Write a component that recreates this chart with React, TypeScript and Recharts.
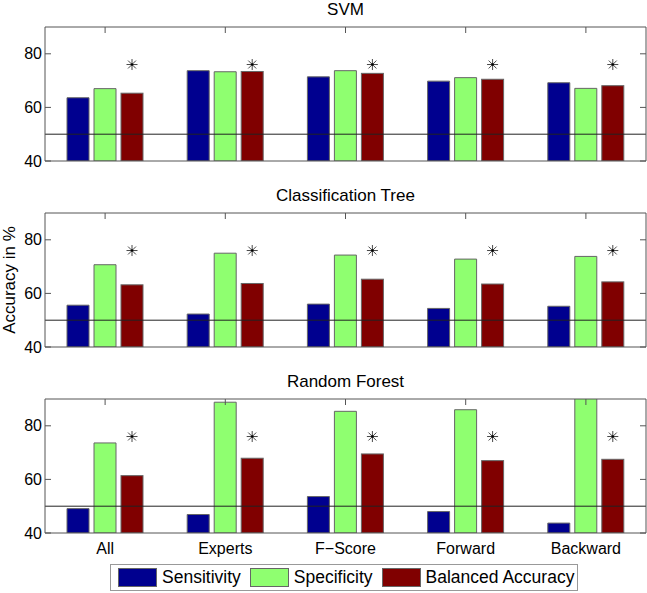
import { BarChart, Bar, XAxis, YAxis, ReferenceLine } from 'recharts';

// feature-selection methods on the x axis
const CATEGORIES = ['All', 'Experts', 'F\u2212Score', 'Forward', 'Backward'];

// SVM
const SVM_SENS = [63.6, 73.7, 71.4, 69.8, 69.2];
const SVM_SPEC = [67.0, 73.3, 73.7, 71.1, 67.1];
const SVM_BAL = [65.3, 73.4, 72.7, 70.5, 68.1];

// Classification Tree
const TREE_SENS = [55.6, 52.3, 56.0, 54.4, 55.2];
const TREE_SPEC = [70.7, 75.0, 74.3, 72.8, 73.8];
const TREE_BAL = [63.2, 63.7, 65.3, 63.5, 64.3];

// Random Forest (Backward specificity runs past the top of the axis)
const FOREST_SENS = [49.1, 46.9, 53.6, 48.0, 43.7];
const FOREST_SPEC = [73.6, 88.8, 85.4, 86.0, 92.0];
const FOREST_BAL = [61.4, 67.9, 69.5, 67.0, 67.5];

const Y_TICKS = [40, 60, 80];
const Y_MIN = 40;
const Y_MAX = 90;
const CHANCE_LEVEL = 50;
const STAR_LEVEL = 76;

const SERIES = [
  { key: 'sens', name: 'Sensitivity', color: '#00008F' },
  { key: 'spec', name: 'Specificity', color: '#8FFF70' },
  { key: 'bal', name: 'Balanced Accuracy', color: '#800000' },
];

const FONT = '"Liberation Sans", Arial, Helvetica, sans-serif';
const BOX = '#555555';
const EDGE = '#666666';

const buildRows = (sens: number[], spec: number[], bal: number[]) =>
  CATEGORIES.map((name, i) => ({ name, sens: sens[i], spec: spec[i], bal: bal[i] }));

const PANELS = [
  { title: 'SVM', rows: buildRows(SVM_SENS, SVM_SPEC, SVM_BAL) },
  { title: 'Classification Tree', rows: buildRows(TREE_SENS, TREE_SPEC, TREE_BAL) },
  { title: 'Random Forest', rows: buildRows(FOREST_SENS, FOREST_SPEC, FOREST_BAL) },
];

function Asterisk({ cx, cy }: { cx: number; cy: number }) {
  const r = 5.5;
  const d = r * 0.72;
  return (
    <g stroke="#333" strokeWidth={0.9}>
      <line x1={cx - r} y1={cy} x2={cx + r} y2={cy} />
      <line x1={cx} y1={cy - r} x2={cx} y2={cy + r} />
      <line x1={cx - d} y1={cy - d} x2={cx + d} y2={cy + d} />
      <line x1={cx - d} y1={cy + d} x2={cx + d} y2={cy - d} />
      <circle cx={cx} cy={cy} r={1.2} fill="#000" stroke="none" />
    </g>
  );
}

// balanced accuracy bar with the significance marker above it
const renderBalanced = (props: any) => {
  const { x, y, width, height, payload, fill } = props;
  const pxPerUnit = height / (payload.bal - Y_MIN);
  const starY = y + height - (STAR_LEVEL - Y_MIN) * pxPerUnit;
  return (
    <g>
      <rect x={x} y={y} width={width} height={height} fill={fill} stroke={EDGE} strokeWidth={1} />
      <Asterisk cx={x + width / 2} cy={starY} />
    </g>
  );
};

function Panel({ title, rows, top, last }: { title: string; rows: any[]; top: number; last: boolean }) {
  return (
    <div style={{ position: 'absolute', left: 0, top, width: 647 }}>
      <div
        style={{
          position: 'absolute',
          left: 45,
          width: 601,
          top: 0,
          height: 19,
          lineHeight: '19px',
          textAlign: 'center',
          fontFamily: FONT,
          fontSize: 17,
          color: '#000',
        }}
      >
        {title}
      </div>
      <BarChart
        width={647}
        height={last ? 193 : 172}
        data={rows}
        margin={{ top: 26, right: 0, left: 0, bottom: last ? 2 : 10 }}
        barSize={22}
        barGap={5}
      >
        <XAxis
          dataKey="name"
          interval={0}
          height={last ? 30 : 1}
          axisLine={{ stroke: BOX }}
          tickLine={false}
          tickMargin={4}
          tick={last ? { fontFamily: FONT, fontSize: 16, fill: '#000' } : false}
        />
        <XAxis
          xAxisId="top"
          orientation="top"
          dataKey="name"
          height={1}
          interval={0}
          tickSize={-6}
          tickFormatter={() => ''}
          axisLine={{ stroke: BOX }}
          tickLine={{ stroke: BOX }}
        />
        <YAxis
          width={45}
          domain={[Y_MIN, Y_MAX]}
          ticks={Y_TICKS}
          interval={0}
          allowDataOverflow
          tickSize={-6}
          tickMargin={9}
          axisLine={{ stroke: BOX }}
          tickLine={{ stroke: BOX }}
          tick={{ fontFamily: FONT, fontSize: 16, fill: '#000' }}
        />
        <YAxis
          yAxisId="right"
          orientation="right"
          width={1}
          domain={[Y_MIN, Y_MAX]}
          ticks={Y_TICKS}
          interval={0}
          allowDataOverflow
          tickSize={-6}
          tickFormatter={() => ''}
          axisLine={{ stroke: BOX }}
          tickLine={{ stroke: BOX }}
        />
        <Bar dataKey="sens" fill={SERIES[0].color} stroke={EDGE} strokeWidth={1} isAnimationActive={false} />
        <Bar dataKey="spec" fill={SERIES[1].color} stroke={EDGE} strokeWidth={1} isAnimationActive={false} />
        <Bar dataKey="bal" fill={SERIES[2].color} shape={renderBalanced} isAnimationActive={false} />
        <ReferenceLine y={CHANCE_LEVEL} stroke="#222" strokeWidth={1} />
      </BarChart>
    </div>
  );
}

export default function App() {
  return (
    <div style={{ position: 'relative', width: 647, height: 593, background: '#fff', fontFamily: FONT }}>
      <style>{'body { margin: 0; }'}</style>
      {PANELS.map((p, i) => (
        <Panel key={p.title} title={p.title} rows={p.rows} top={i * 186} last={i === PANELS.length - 1} />
      ))}
      <div
        style={{
          position: 'absolute',
          left: 9,
          top: 280,
          transform: 'translate(-50%, -50%) rotate(-90deg)',
          whiteSpace: 'nowrap',
          fontSize: 17,
          lineHeight: '17px',
          color: '#000',
        }}
      >
        Accuracy in %
      </div>
      <div
        style={{
          position: 'absolute',
          left: 110,
          top: 564,
          height: 25,
          display: 'flex',
          alignItems: 'center',
          border: '1px solid #999',
          padding: '0 3px 0 7px',
          fontSize: 17.5,
          color: '#000',
          background: '#fff',
        }}
      >
        {SERIES.map((s, i) => (
          <div key={s.key} style={{ display: 'flex', alignItems: 'center', marginLeft: i === 0 ? 0 : 9 }}>
            <span
              style={{
                display: 'inline-block',
                width: 37,
                height: 17,
                background: s.color,
                border: `1px solid ${EDGE}`,
                marginRight: 5,
              }}
            />
            <span>{s.name}</span>
          </div>
        ))}
      </div>
    </div>
  );
}
